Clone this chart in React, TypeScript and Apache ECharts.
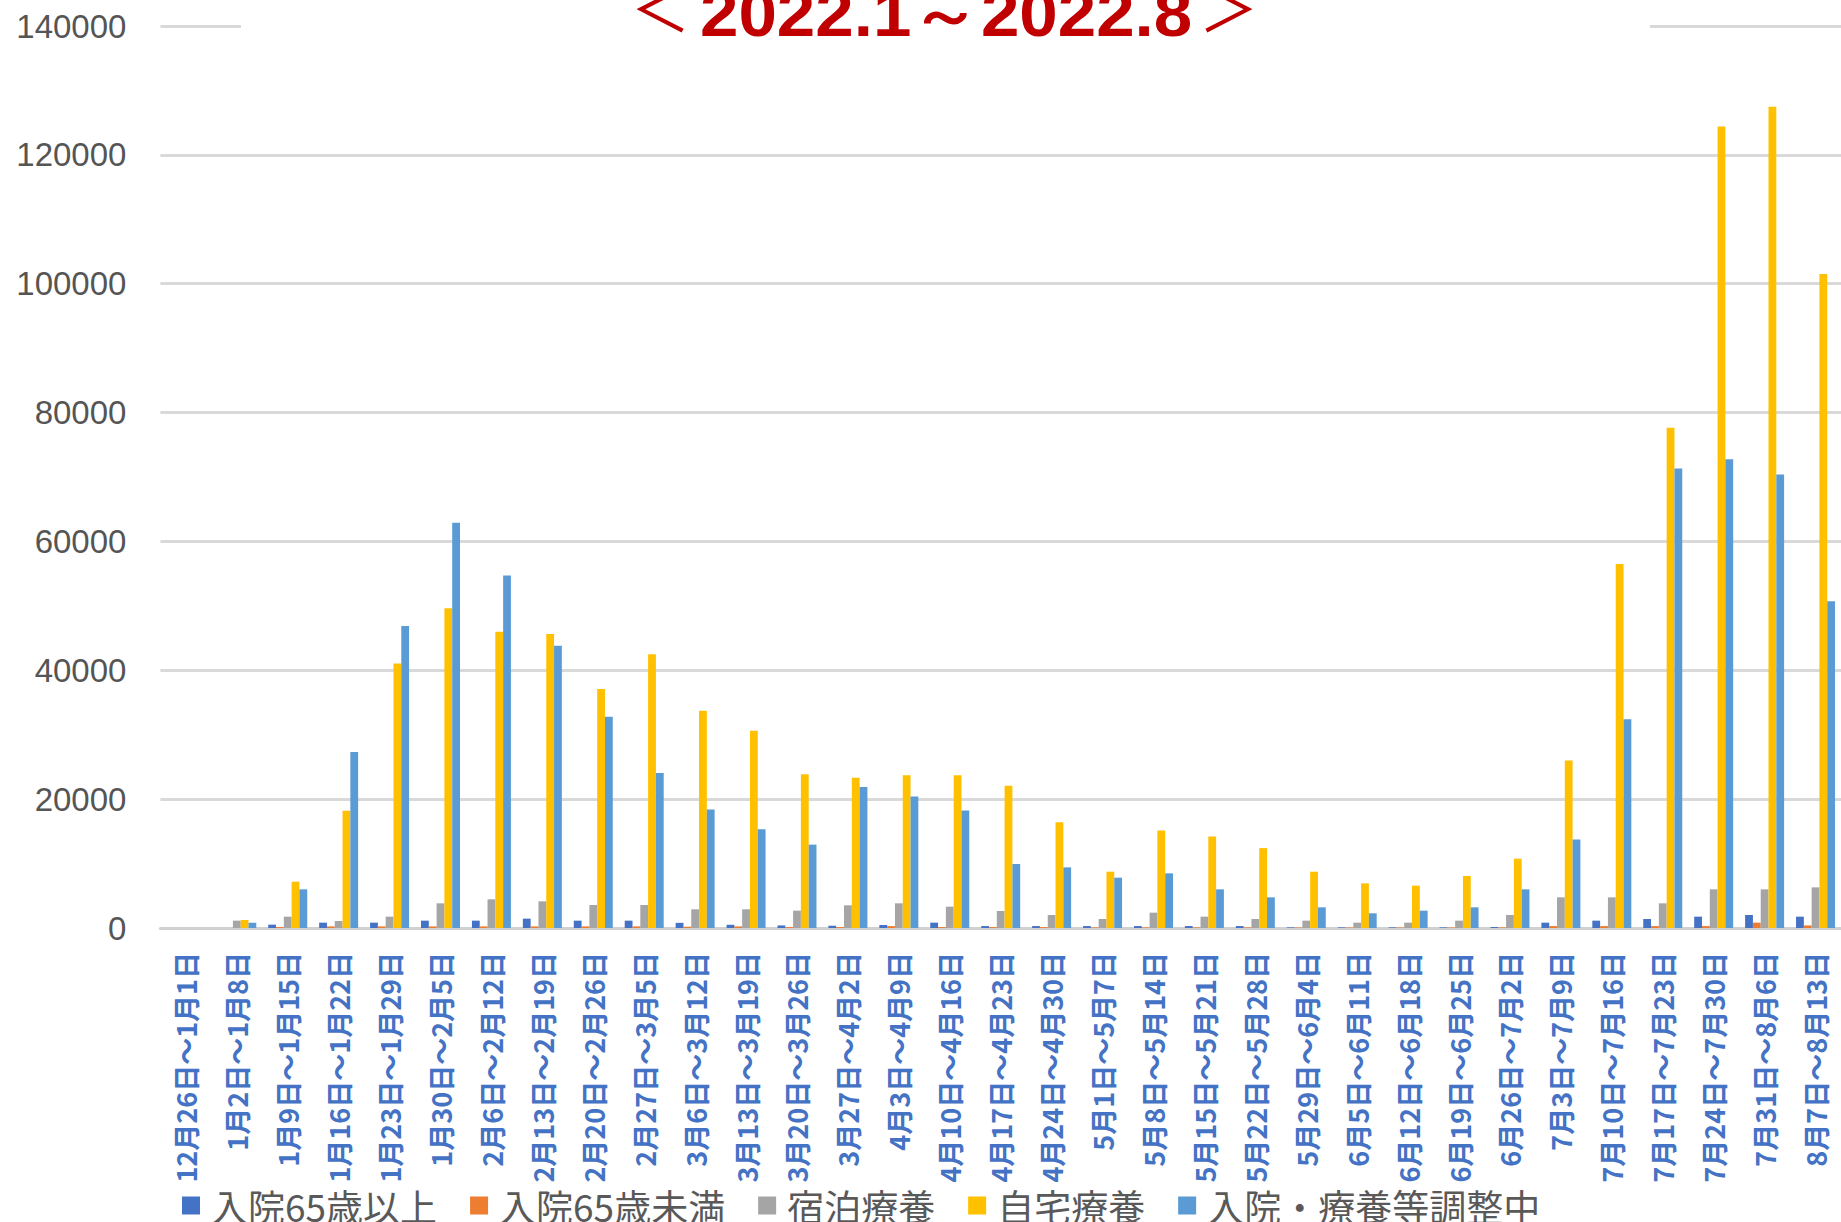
import React, { useEffect, useRef } from "react";
import * as echarts from "echarts";

const categories = [
  "12月26日～1月1日", "1月2日～1月8日", "1月9日～1月15日", "1月16日～1月22日", "1月23日～1月29日",
  "1月30日～2月5日", "2月6日～2月12日", "2月13日～2月19日", "2月20日～2月26日", "2月27日～3月5日",
  "3月6日～3月12日", "3月13日～3月19日", "3月20日～3月26日", "3月27日～4月2日", "4月3日～4月9日",
  "4月10日～4月16日", "4月17日～4月23日", "4月24日～4月30日", "5月1日～5月7日", "5月8日～5月14日",
  "5月15日～5月21日", "5月22日～5月28日", "5月29日～6月4日", "6月5日～6月11日", "6月12日～6月18日",
  "6月19日～6月25日", "6月26日～7月2日", "7月3日～7月9日", "7月10日～7月16日", "7月17日～7月23日",
  "7月24日～7月30日", "7月31日～8月6日", "8月7日～8月13日",
];

const seriesNames = ["入院65歳以上", "入院65歳未満", "宿泊療養", "自宅療養", "入院・療養等調整中"];

const hosp65Plus = [
  0, 0, 520, 830, 830, 1140, 1140, 1450, 1140, 1140,
  800, 500, 400, 350, 470, 830, 300, 300, 300, 300,
  300, 300, 100, 100, 100, 100, 150, 830, 1140, 1400,
  1760, 2020, 1760,
];
const hospUnder65 = [
  0, 0, 150, 250, 250, 250, 250, 250, 250, 250,
  200, 250, 150, 150, 300, 150, 150, 150, 100, 100,
  100, 100, 80, 80, 80, 80, 100, 300, 300, 300,
  300, 830, 400,
];
const hotel = [
  0, 1140, 1760, 1090, 1760, 3830, 4450, 4140, 3570, 3570,
  2900, 2900, 2690, 3520, 3830, 3310, 2640, 2020, 1400, 2380,
  1760, 1400, 1140, 830, 830, 1140, 2020, 4760, 4760, 3830,
  6000, 6000, 6310,
];
const home = [
  0, 1240, 7190, 18210, 41070, 49610, 45990, 45630, 37090, 42480,
  33730, 30630, 23880, 23330, 23700, 23700, 22060, 16400, 8740, 15130,
  14220, 12400, 8740, 6930, 6570, 8070, 10760, 26000, 56500, 77650,
  124400, 127450, 101500,
];
const adjusting = [
  0, 830, 6000, 27310, 46870, 62900, 54700, 43820, 32800, 24070,
  18410, 15310, 12940, 21880, 20420, 18230, 9930, 9410, 7810, 8480,
  6000, 4760, 3210, 2280, 2690, 3210, 6000, 13750, 32400, 71300,
  72740, 70370, 50700,
];

const colors = ["#4472C4", "#ED7D31", "#A5A5A5", "#FFC000", "#5B9BD5"];

export default function App() {
  const ref = useRef<HTMLDivElement>(null);
  useEffect(() => {
    if (!ref.current) return;
    const chart = echarts.init(ref.current, null, { renderer: "svg" });
    const values = [hosp65Plus, hospUnder65, hotel, home, adjusting];
    chart.setOption({
      animation: false,
      backgroundColor: "#ffffff",
      color: colors,
      grid: { left: 160.4, top: 26, width: 1689.6, height: 902, containLabel: false },
      legend: {
        left: 182,
        top: 1187,
        padding: 0,
        itemWidth: 18,
        itemHeight: 18,
        itemGap: 33,
        icon: "rect",
        data: seriesNames,
        textStyle: {
          color: "#595959",
          fontSize: 37,
          fontFamily: "Noto Sans CJK JP",
          padding: [0, 0, 0, 6],
        },
      },
      xAxis: {
        type: "category",
        data: categories,
        axisTick: { show: false },
        axisLine: { lineStyle: { color: "#D0D0D0", width: 3 } },
        axisLabel: {
          interval: 0,
          rotate: 90,
          margin: 24,
          color: "#4472C4",
          fontSize: 27,
          fontWeight: "bold",
          fontFamily: "Noto Sans CJK JP",
        },
      },
      yAxis: {
        type: "value",
        min: 0,
        max: 140000,
        interval: 20000,
        axisLine: { show: false },
        axisTick: { show: false },
        splitLine: { lineStyle: { color: "#D9D9D9", width: 3 } },
        axisLabel: {
          margin: 34,
          color: "#555555",
          fontSize: 33,
          fontFamily: "Liberation Sans",
          formatter: (v: number) => String(v),
        },
      },
      series: seriesNames.map((name, i) => ({
        name,
        type: "bar",
        data: values[i],
        barWidth: 7.8,
        barGap: "0%",
      })),
      graphic: [
        {
          type: "rect",
          z: 100,
          shape: { x: 241, y: 0, width: 1409, height: 44 },
          style: { fill: "#ffffff" },
        },
        {
          type: "text",
          z: 101,
          x: 660.5,
          y: 5,
          style: {
            text: "＜",
            fontSize: 60,
            fontFamily: "Noto Sans CJK JP",
            fill: "#C00000",
            align: "center",
            verticalAlign: "middle",
          },
        },
        {
          type: "text",
          z: 101,
          x: 700,
          y: 14,
          scaleX: 1.08,
          style: {
            text: "2022.1～2022.8",
            fontSize: 64,
            fontWeight: "bold",
            fontFamily: "Liberation Sans",
            fill: "#C00000",
            align: "left",
            verticalAlign: "middle",
          },
        },
        {
          type: "text",
          z: 101,
          x: 1228.5,
          y: 5,
          style: {
            text: "＞",
            fontSize: 60,
            fontFamily: "Noto Sans CJK JP",
            fill: "#C00000",
            align: "center",
            verticalAlign: "middle",
          },
        },
      ],
    });
    return () => chart.dispose();
  }, []);
  return (
    <div
      ref={ref}
      style={{ position: "absolute", left: 0, top: 0, width: 1841, height: 1222, overflow: "hidden" }}
    />
  );
}
